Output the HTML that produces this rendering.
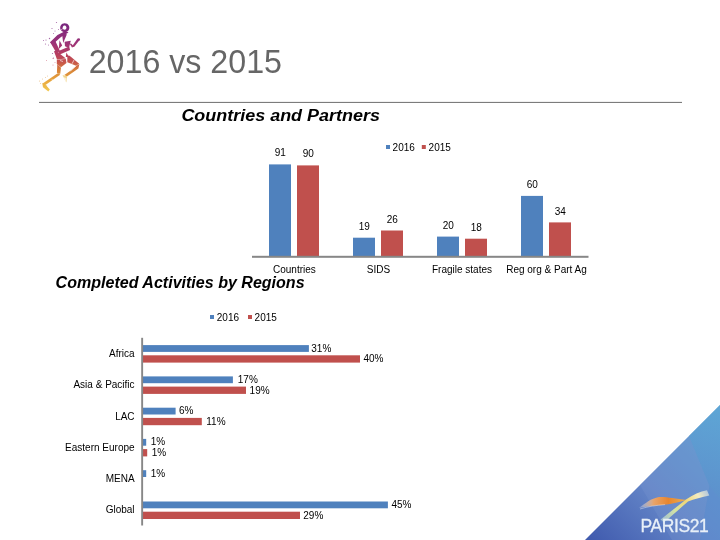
<!DOCTYPE html>
<html lang="en"><head><meta charset="utf-8"><title>2016 vs 2015</title>
<style>
html,body{margin:0;padding:0;background:#fff;}
body{width:720px;height:540px;overflow:hidden;position:relative;font-family:"Liberation Sans",sans-serif;}
svg{position:absolute;left:0;top:0;display:block}
text{font-family:"Liberation Sans",sans-serif;}
.lb{font-size:10px;fill:#000;}
</style></head><body>
<svg width="720" height="540" viewBox="0 0 720 540">
<defs>
<linearGradient id="tri" gradientUnits="userSpaceOnUse" x1="590" y1="545" x2="720" y2="410">
<stop offset="0" stop-color="#3f59ad"/><stop offset="0.45" stop-color="#6486c8"/><stop offset="1" stop-color="#5ea5d5"/>
</linearGradient>
<linearGradient id="fac" gradientUnits="userSpaceOnUse" x1="690" y1="540" x2="720" y2="410">
<stop offset="0" stop-color="#5a86c8"/><stop offset="1" stop-color="#5ea5d5"/>
</linearGradient>
<linearGradient id="run" gradientUnits="userSpaceOnUse" x1="0" y1="22" x2="0" y2="92">
<stop offset="0" stop-color="#74257e"/><stop offset="0.3" stop-color="#9c3378"/><stop offset="0.47" stop-color="#b83e5e"/><stop offset="0.58" stop-color="#c8584a"/><stop offset="0.7" stop-color="#d98638"/><stop offset="0.85" stop-color="#e9aa40"/><stop offset="1" stop-color="#f2cc55"/>
</linearGradient>
<linearGradient id="org" gradientUnits="userSpaceOnUse" x1="639" y1="0" x2="688" y2="0">
<stop offset="0" stop-color="#dfe6f2" stop-opacity="0.3"/><stop offset="0.3" stop-color="#e9a46a"/><stop offset="0.6" stop-color="#e8862e"/><stop offset="1" stop-color="#e9b45a"/>
</linearGradient>
<linearGradient id="yel" gradientUnits="userSpaceOnUse" x1="661" y1="520" x2="709" y2="492">
<stop offset="0" stop-color="#b5d3d6" stop-opacity="0.7"/><stop offset="0.3" stop-color="#d3e3a4"/><stop offset="0.55" stop-color="#f0d777"/><stop offset="0.8" stop-color="#f3ecc0"/><stop offset="1" stop-color="#dfe6e6" stop-opacity="0.6"/>
</linearGradient>
<filter id="b1" x="-20%" y="-50%" width="140%" height="200%"><feGaussianBlur stdDeviation="0.7"/></filter>
</defs>

<polygon points="720,405 720,540 585,540" fill="url(#tri)"/>
<polygon points="720,405 689,436 709.5,486 720,499" fill="url(#fac)" opacity="0.8"/>
<polygon points="709.5,486 720,499 720,540 700,540" fill="#5b8fd0" opacity="0.45"/>
<polygon points="689,436 709.5,486 700,540 672,540 640,485" fill="#7a98d2" opacity="0.28"/>
<g filter="url(#b1)">
<path d="M639,508 C645,503.5 651,498.3 659,497 C666,496.4 674,498.6 687.2,500 C679,501.6 671,504.6 662,505 C654,505.3 646,506.8 639,508Z" fill="url(#org)"/>
<path d="M640,509 C648,506.5 656,505.3 665,504.6" stroke="#e8eef6" stroke-opacity="0.45" stroke-width="1" fill="none"/>
<path d="M660.6,519.6 L686,499.4 C693,495 700,491.5 707,490.3 L709.3,495.6 C702,497 694,499.3 688,501.6 L664,522.4Z" fill="url(#yel)"/>
</g>
<text x="640.6" y="531.8" font-size="17.5" fill="#e8f0f8" stroke="#e8f0f8" stroke-width="0.3" textLength="68.2" lengthAdjust="spacing">PARIS21</text>
<g fill="url(#run)" stroke="none">
<path d="M64.7,23.2 a4.6,4.5 0 1,0 0.1,0Z M64.6,25.6 a1.9,2.1 0 1,1 -0.1,0Z" fill-rule="evenodd"/>
<polygon points="65.5,31 68.5,32.6 61,37 52.5,44.5 50,42.2 57.5,35"/>
<polygon points="50.2,42.2 54.8,39.8 59.8,50.8 56.6,53.2"/>
<polygon points="62,33.6 66.9,34.3 63.2,43"/>
<polygon points="59.5,40.3 62.2,45.5 58.8,49"/>
<polygon points="64.6,41.7 70.8,40.7 68.9,48 65,46.2"/>
<polygon points="69.5,43.6 71.4,43.8 73.6,46.2 72,47.6"/>
<polygon points="72,47.2 72.8,45.3 77.6,38.6 79.6,40 74.3,46.8"/>
<polygon points="58,51.2 69.2,46.6 70.1,50 59.2,54.8"/>
<polygon points="54,51.3 56,50.8 65.9,58.6 57,59.6"/>
<polygon points="66.4,52.6 68.9,57 65.8,57"/>
<polygon points="56.8,59.8 65.8,59 66.5,63 61,67.3 56.8,64"/>
<polygon points="67.3,55.5 69.6,55.8 79.2,63.8 76,65.7 71.2,63.8 67.3,62.2"/>
<polygon points="79.4,64 78.4,68.5 67,76.6 64.3,75 70.5,70.8 76,66"/>
<polygon points="57.3,64.3 61,67.8 60.2,73.9 56.9,72.8"/>
<polygon points="58.1,73 60.2,74.7 44.4,85.7 42.3,83.7"/>
<polygon points="42.3,83.2 46,85.2 49.8,89.5 48.3,91.4 43,87.2"/>
<circle cx="78.8" cy="39.4" r="1.2"/>
<polygon points="62.5,74.9 67.1,76.2 66.3,82.4" fill="#f1d48a"/>
</g>
<g stroke="#fff" stroke-width="0.7" fill="none" opacity="0.9">
<path d="M62.8,28.5 L58.5,32.5 M60,60.5 L63,61.5 M72,63.8 L74,60 M70.5,71 L76,66 M52,79.3 L53.5,81.3 M64.3,77.8 L66,78.5 L65.5,80.5Z"/>
</g>
<g fill="#8c3a8c" opacity="0.75">
<circle cx="56.5" cy="22.5" r="0.6"/>
<circle cx="52" cy="28.5" r="0.6"/>
<circle cx="55" cy="31" r="0.5"/>
<circle cx="58.5" cy="29.5" r="0.5"/>
<circle cx="53.5" cy="33.5" r="0.5"/>
<circle cx="49.5" cy="38.5" r="0.7"/>
<circle cx="46" cy="40" r="0.6"/>
<circle cx="43.5" cy="40.5" r="0.5"/>
<circle cx="45.5" cy="44" r="0.6"/>
<circle cx="48.5" cy="45" r="0.5"/>
<circle cx="52.5" cy="53.5" r="0.6"/>
<circle cx="53.5" cy="58" r="0.6"/>
</g>
<g fill="#c8506a" opacity="0.6">
<circle cx="53" cy="58.5" r="0.6"/>
<circle cx="55" cy="62.5" r="0.5"/>
<circle cx="53" cy="65" r="0.6"/>
<circle cx="46.5" cy="60.5" r="0.5"/>
</g>
<g fill="#e2a050" opacity="0.6">
<circle cx="47.5" cy="76" r="0.5"/>
<circle cx="45.5" cy="77.5" r="0.5"/>
<circle cx="42.5" cy="79" r="0.5"/>
<circle cx="39.5" cy="81" r="0.6"/>
<circle cx="40.5" cy="83.5" r="0.5"/>
</g>
<text transform="translate(88.7,72.7) scale(1,1.03)" font-size="32.2" fill="#666">2016 vs 2015</text>
<rect x="39" y="101.9" width="643" height="1" fill="#6e6e6e"/>
<text x="181.4" y="120.7" font-size="16" font-weight="bold" font-style="italic" fill="#000" textLength="198.5" lengthAdjust="spacingAndGlyphs">Countries and Partners</text>
<text x="55.6" y="287.5" font-size="16" font-weight="bold" font-style="italic" fill="#000" textLength="249" lengthAdjust="spacingAndGlyphs">Completed Activities by Regions</text>
<rect x="269" y="164.4" width="22" height="92.6" fill="#4f81bd"/>
<rect x="297" y="165.4" width="22" height="91.6" fill="#c0504d"/>
<text class="lb" x="280.3" y="156" text-anchor="middle">91</text>
<text class="lb" x="308.3" y="157" text-anchor="middle">90</text>
<text class="lb" x="294.4" y="272.6" text-anchor="middle">Countries</text>
<rect x="353" y="237.7" width="22" height="19.3" fill="#4f81bd"/>
<rect x="381" y="230.5" width="22" height="26.5" fill="#c0504d"/>
<text class="lb" x="364.3" y="230" text-anchor="middle">19</text>
<text class="lb" x="392.3" y="223" text-anchor="middle">26</text>
<text class="lb" x="378.4" y="272.6" text-anchor="middle">SIDS</text>
<rect x="437" y="236.6" width="22" height="20.4" fill="#4f81bd"/>
<rect x="465" y="238.7" width="22" height="18.3" fill="#c0504d"/>
<text class="lb" x="448.3" y="229.4" text-anchor="middle">20</text>
<text class="lb" x="476.3" y="231" text-anchor="middle">18</text>
<text class="lb" x="462" y="272.6" text-anchor="middle">Fragile states</text>
<rect x="521" y="195.9" width="22" height="61.1" fill="#4f81bd"/>
<rect x="549" y="222.4" width="22" height="34.6" fill="#c0504d"/>
<text class="lb" x="532.3" y="188" text-anchor="middle">60</text>
<text class="lb" x="560.3" y="215.2" text-anchor="middle">34</text>
<text class="lb" x="546.5" y="272.6" text-anchor="middle">Reg org &amp; Part Ag</text>
<rect x="252" y="255.8" width="336.5" height="2" fill="#878787"/>
<rect x="386" y="145" width="4" height="4" fill="#4f81bd"/>
<text class="lb" x="392.6" y="150.7">2016</text>
<rect x="421.8" y="145" width="4" height="4" fill="#c0504d"/>
<text class="lb" x="428.6" y="150.7">2015</text>
<rect x="210" y="315" width="4" height="4" fill="#4f81bd"/>
<text class="lb" x="216.8" y="320.7">2016</text>
<rect x="248" y="315" width="4" height="4" fill="#c0504d"/>
<text class="lb" x="254.6" y="320.7">2015</text>
<rect x="143.0" y="345.1" width="165.9" height="6.8" fill="#4f81bd"/>
<text class="lb" x="311.3" y="351.6">31%</text>
<rect x="143.0" y="355.3" width="217.0" height="7.3" fill="#c0504d"/>
<text class="lb" x="363.4" y="362.3">40%</text>
<text class="lb" x="134.6" y="357.0" text-anchor="end">Africa</text>
<rect x="143.0" y="376.4" width="89.9" height="6.8" fill="#4f81bd"/>
<text class="lb" x="237.8" y="382.9">17%</text>
<rect x="143.0" y="386.6" width="103.0" height="7.3" fill="#c0504d"/>
<text class="lb" x="249.6" y="393.6">19%</text>
<text class="lb" x="134.6" y="388.3" text-anchor="end">Asia &amp; Pacific</text>
<rect x="143.0" y="407.7" width="32.6" height="6.8" fill="#4f81bd"/>
<text class="lb" x="178.9" y="414.2">6%</text>
<rect x="143.0" y="417.9" width="58.8" height="7.3" fill="#c0504d"/>
<text class="lb" x="206.3" y="424.9">11%</text>
<text class="lb" x="134.6" y="419.6" text-anchor="end">LAC</text>
<rect x="143.0" y="438.9" width="3.2" height="6.8" fill="#4f81bd"/>
<text class="lb" x="150.7" y="445.4">1%</text>
<rect x="143.0" y="449.1" width="4.2" height="7.3" fill="#c0504d"/>
<text class="lb" x="151.8" y="456.1">1%</text>
<text class="lb" x="134.6" y="450.8" text-anchor="end">Eastern Europe</text>
<rect x="143.0" y="470.2" width="3.2" height="6.8" fill="#4f81bd"/>
<text class="lb" x="150.7" y="476.7">1%</text>
<text class="lb" x="134.6" y="482.1" text-anchor="end">MENA</text>
<rect x="143.0" y="501.5" width="244.9" height="6.8" fill="#4f81bd"/>
<text class="lb" x="391.4" y="508.0">45%</text>
<rect x="143.0" y="511.7" width="157.0" height="7.3" fill="#c0504d"/>
<text class="lb" x="303.3" y="518.7">29%</text>
<text class="lb" x="134.6" y="513.4" text-anchor="end">Global</text>
<rect x="141.2" y="337.8" width="1.9" height="187.7" fill="#878787"/>
</svg></body></html>
